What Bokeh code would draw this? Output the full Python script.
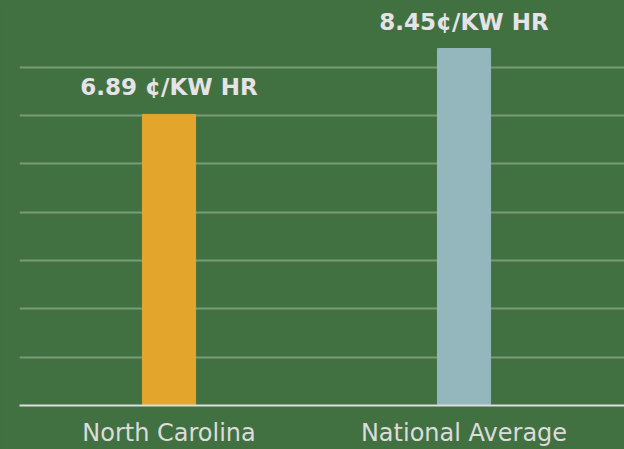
import numpy as np
from bokeh.plotting import figure
from bokeh.models import ColumnDataSource, Range1d, FixedTicker
from bokeh.core.properties import value
from bokeh.embed import file_html
from bokeh.resources import INLINE

categories = ["North Carolina", "National Average"]
rates = [6.89, 8.45]
rate_labels = ["6.89 ¢/KW HR", "8.45¢/KW HR"]
bar_colors = ["#E3A52B", "#93B7BD"]

BG = "#427141"

xpos = [i + 0.5 for i in range(len(categories))]
src = ColumnDataSource(dict(x=xpos, cat=categories, rate=rates, lab=rate_labels, col=bar_colors))

p = figure(width=624, height=449, output_backend="svg", toolbar_location=None,
           x_range=Range1d(-0.0068, 2.044),
           y_range=Range1d(0, 9.587),
           min_border_left=19, min_border_right=0, min_border_top=0, min_border_bottom=43)

p.background_fill_color = BG
p.border_fill_color = BG
p.outline_line_color = None

p.vbar(x="x", top="rate", width=0.18, color="col", source=src)

p.text(x="x", y="rate", text="lab", source=src, text_align="center", text_baseline="bottom",
       y_offset=-14, text_color="#E6E3E8", text_font=value("DejaVu Sans"),
       text_font_style="bold", text_font_size="23px")

p.yaxis.visible = False
p.ygrid.ticker = FixedTicker(ticks=list(np.arange(1, 8) * 1.1436))
p.ygrid.grid_line_color = "#ffffff"
p.ygrid.grid_line_alpha = 0.3
p.ygrid.grid_line_width = 2
p.xgrid.grid_line_color = None

ax = p.xaxis[0]
ax.ticker = FixedTicker(ticks=xpos)
ax.major_label_overrides = {x: c for x, c in zip(xpos, categories)}
ax.axis_line_color = "#DDDDDD"
ax.axis_line_width = 2
ax.major_tick_line_color = None
ax.minor_tick_line_color = None
ax.major_tick_out = 0
ax.major_tick_in = 0
ax.minor_tick_out = 0
ax.minor_tick_in = 0
ax.major_label_text_color = "#DCDCDC"
ax.major_label_text_font = "DejaVu Sans"
ax.major_label_text_font_size = "24px"
ax.major_label_standoff = 13

html = file_html(p, INLINE)
html = html.replace("</head>", "<style>html, body { background: %s !important; }</style></head>" % BG, 1)
open("out.html", "w").write(html)
